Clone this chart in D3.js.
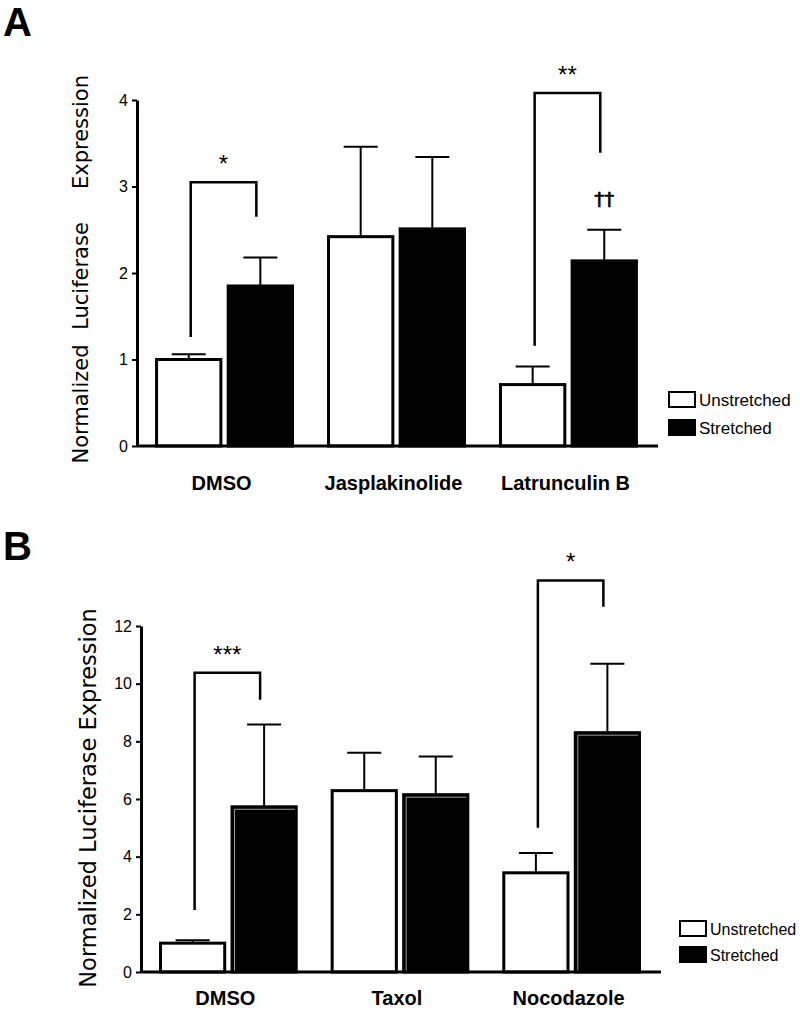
<!DOCTYPE html>
<html><head><meta charset="utf-8">
<script src="https://cdn.jsdelivr.net/npm/d3@7"></script>
<style>body{margin:0;background:#fff}svg{display:block;font-family:"Liberation Sans",Arial,Helvetica,sans-serif}</style>
</head><body><svg id="c" width="800" height="1011"></svg>
<script>
// ---------- data ----------
const seriesNames = ["Unstretched", "Stretched"];

const aCategories = ["DMSO", "Jasplakinolide", "Latrunculin B"];
const aUnstretched = [1.0, 2.42, 0.71];
const aUnstretchedErr = [0.06, 1.04, 0.21];
const aStretched = [1.85, 2.51, 2.14];
const aStretchedErr = [0.33, 0.83, 0.36];
const aTicks = [0, 1, 2, 3, 4];
// brackets: category, left-foot value, top value, right-foot value, label
const aBrackets = [["DMSO", 1.26, 3.05, 2.65, "*"], ["Latrunculin B", 1.16, 4.08, 3.39, "**"]];
const aMarks = [["Latrunculin B", "Stretched", 2.78, "††"]];

const bCategories = ["DMSO", "Taxol", "Nocodazole"];
const bUnstretched = [1.0, 6.29, 3.44];
const bUnstretchedErr = [0.1, 1.31, 0.69];
const bStretched = [5.73, 6.15, 8.3];
const bStretchedErr = [2.85, 1.32, 2.39];
const bTicks = [0, 2, 4, 6, 8, 10, 12];
const bBrackets = [["DMSO", 2.15, 10.38, 9.44, "***"], ["Nocodazole", 5.0, 13.58, 12.67, "*"]];

const svg = d3.select("#c");

function panel(cfg) {
  const g = svg.append("g");
  const y = d3.scaleLinear().domain([0, cfg.ymax]).range([cfg.base, cfg.top]);
  const x = d3.scaleBand().domain(cfg.cats).range([cfg.axisX, cfg.xEnd]).paddingInner(0.192).paddingOuter(0.105);
  const xs = d3.scaleBand().domain(seriesNames).range([0, x.bandwidth()]).paddingInner(0.06);

  const rows = [];
  cfg.cats.forEach((c, i) => {
    rows.push({c, s: "Unstretched", v: cfg.u[i], e: cfg.ue[i]});
    rows.push({c, s: "Stretched", v: cfg.s[i], e: cfg.se[i]});
  });

  rows.forEach(r => {
    const cx = x(r.c) + xs(r.s) + xs.bandwidth() / 2;
    g.append("line").attr("x1", cx).attr("x2", cx).attr("y1", y(r.v)).attr("y2", y(r.v + r.e))
      .attr("stroke", "#000").attr("stroke-width", 2);
    g.append("line").attr("x1", cx - 17).attr("x2", cx + 17).attr("y1", y(r.v + r.e)).attr("y2", y(r.v + r.e))
      .attr("stroke", "#000").attr("stroke-width", 2);
  });

  rows.forEach(r => {
    const bx = x(r.c) + xs(r.s);
    g.append("rect").attr("x", bx + 1.5).attr("y", y(r.v)).attr("width", xs.bandwidth() - 3)
      .attr("height", y(0) - y(r.v))
      .attr("fill", r.s === "Stretched" ? "#000" : "#fff").attr("stroke", "#000").attr("stroke-width", 3);
    if (cfg.inner && r.s === "Stretched") {
      g.append("path").attr("d", `M${bx + 4},${y(0)} V${y(r.v) + 2.5} H${bx + xs.bandwidth() - 3}`)
        .attr("fill", "none").attr("stroke", "#9a9a9a").attr("stroke-width", 1);
    }
  });

  const ya = d3.axisLeft(y).tickValues(cfg.ticks).tickSize(5).tickSizeOuter(0).tickFormat(d3.format("d"));
  const yg = g.append("g").attr("transform", `translate(${cfg.axisX},0)`).call(ya);
  yg.select(".domain").attr("stroke-width", 3);
  yg.selectAll(".tick line").attr("stroke-width", 2);
  yg.selectAll(".tick text").attr("font-size", 16).attr("font-family", "Liberation Sans, Arial, sans-serif").attr("dx", "-1");
  g.append("line").attr("x1", cfg.axisX).attr("x2", cfg.baseEnd).attr("y1", y(0)).attr("y2", y(0))
    .attr("stroke", "#000").attr("stroke-width", 3);

  cfg.cats.forEach(c => {
    g.append("text").attr("x", x(c) + x.bandwidth() / 2 - 3).attr("y", cfg.catY).attr("text-anchor", "middle")
      .attr("font-weight", "bold").attr("font-size", 20).text(c);
  });

  cfg.brackets.forEach(([c, lv, tv, rv, lab]) => {
    const lx = x(c) + xs("Unstretched") + xs.bandwidth() / 2 + 2;
    const rx = x(c) + xs("Stretched") + xs.bandwidth() / 2 - 4;
    g.append("path").attr("d", `M${lx},${y(lv)} V${y(tv)} H${rx} V${y(rv)}`)
      .attr("fill", "none").attr("stroke", "#000").attr("stroke-width", 2.5);
    g.append("text").attr("x", (lx + rx) / 2).attr("y", y(tv) - 10).attr("text-anchor", "middle")
      .attr("font-size", 24).text(lab);
  });
  (cfg.marks || []).forEach(([c, s, v, lab]) => {
    g.append("text").attr("x", x(c) + xs(s) + xs.bandwidth() / 2).attr("y", y(v)).attr("text-anchor", "middle")
      .attr("font-size", 20).attr("fill", "#000").attr("stroke", "#000").attr("stroke-width", 0.6)
      .attr("font-family", "DejaVu Sans, sans-serif").text(lab);
  });

  seriesNames.forEach((s, i) => {
    const ly = cfg.legY + i * cfg.legGap;
    g.append("rect").attr("x", cfg.legX).attr("y", ly).attr("width", 26).attr("height", 15)
      .attr("fill", s === "Stretched" ? "#000" : "#fff").attr("stroke", "#000").attr("stroke-width", 2);
    g.append("text").attr("x", cfg.legX + 30).attr("y", ly + 14).attr("font-size", cfg.legFont).text(s);
  });

  g.append("text").attr("x", 3).attr("y", cfg.letterY).attr("font-size", 40).attr("font-weight", "bold").text(cfg.letter);
  return g;
}

const gA = panel({
  cats: aCategories, u: aUnstretched, ue: aUnstretchedErr, s: aStretched, se: aStretchedErr, ticks: aTicks,
  ymax: 4, base: 446, top: 100, axisX: 137, xEnd: 656, baseEnd: 658, catY: 490,
  brackets: aBrackets, marks: aMarks, legX: 669, legY: 392, legGap: 28, legFont: 17, letter: "A", letterY: 36, inner: false
});
[["Normalized", 404], ["Luciferase", 276], ["Expression", 132]].forEach(([t, cy]) => {
  gA.append("text").attr("transform", `translate(88,${cy}) rotate(-90)`).attr("text-anchor", "middle")
    .attr("font-size", 21).attr("font-family", "DejaVu Sans, sans-serif").text(t);
});

const gB = panel({
  cats: bCategories, u: bUnstretched, ue: bUnstretchedErr, s: bStretched, se: bStretchedErr, ticks: bTicks,
  ymax: 12, base: 972, top: 626, axisX: 141, xEnd: 659, baseEnd: 661, catY: 1005,
  brackets: bBrackets, legX: 680, legY: 921, legGap: 26, legFont: 16, letter: "B", letterY: 560, inner: true
});
gB.append("text").attr("transform", `translate(96,798) rotate(-90)`).attr("text-anchor", "middle")
  .attr("font-size", 22.5).attr("font-family", "DejaVu Sans, sans-serif").text("Normalized Luciferase Expression");
</script></body></html>
